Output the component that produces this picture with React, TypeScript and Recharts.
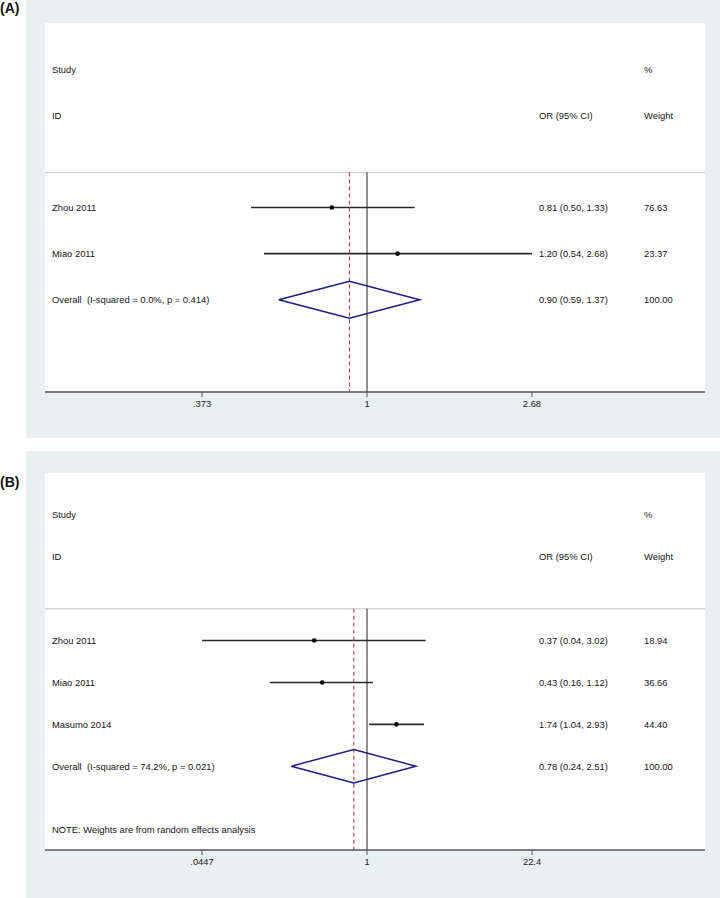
import React from 'react';
import { ScatterChart, Scatter, XAxis, YAxis, ReferenceLine, CartesianGrid } from 'recharts';

const FONT = '"Liberation Sans", Arial, Helvetica, sans-serif';
const NAVY = '#1c1c8a';

// (A) studies
const studiesA = ['Zhou 2011', 'Miao 2011'];
const orA = [0.81, 1.2];
const lowA = [0.5, 0.54];
const highA = [1.33, 2.68];
const weightA = ['76.63', '23.37'];
// overall: estimate, lower, upper
const overallA = [0.9, 0.59, 1.37];
const overallLabelA = 'Overall  (I-squared = 0.0%, p = 0.414)';
const ticksA = [0.373, 1, 2.68];
const tickLabelsA = ['.373', '1', '2.68'];

// (B) studies
const studiesB = ['Zhou 2011', 'Miao 2011', 'Masumo 2014'];
const orB = [0.37, 0.43, 1.74];
const lowB = [0.0447, 0.16, 1.04];
const highB = [3.02, 1.12, 2.93];
const weightB = ['18.94', '36.66', '44.40'];
const overallB = [0.78, 0.24, 2.51];
const overallLabelB = 'Overall  (I-squared = 74.2%, p = 0.021)';
const ticksB = [0.0447, 1, 22.4];
const tickLabelsB = ['.0447', '1', '22.4'];
const noteB = 'NOTE: Weights are from random effects analysis';

const SEP_ROW = -0.76;

type Row = { row: number; label?: string; ci?: string; weight?: string };

const fmt = (v: number) => v.toFixed(2);

const RowTick = (props: any) => {
  const { x, y, payload, rows } = props;
  const r: Row | undefined = rows.find((d: Row) => d.row === payload.value);
  if (!r) return <g />;
  const t = { y, dominantBaseline: 'central' as const, style: { whiteSpace: 'pre' as const } };
  return (
    <g fontFamily={FONT} fontSize={9.4} fill="#151515">
      {r.label && <text x={x + 7} {...t}>{r.label}</text>}
      {r.ci && <text x={x + 494} {...t}>{r.ci}</text>}
      {r.weight && <text x={x + 599} {...t}>{r.weight}</text>}
    </g>
  );
};

const Dot = (props: any) => <circle cx={props.cx} cy={props.cy} r={2.3} fill="#000" />;

type PanelProps = {
  studies: string[];
  or: number[];
  low: number[];
  high: number[];
  weight: string[];
  overall: number[];
  overallLabel: string;
  ticks: number[];
  tickLabels: string[];
  domain: [number, number];
  rowDomain: [number, number];
  note?: string;
  height: number;
  top: number;
  bottom: number;
};

const ForestPanel = (p: PanelProps) => {
  const n = p.studies.length;
  const rows: Row[] = [
    { row: -3, label: 'Study', weight: '%' },
    { row: -2, label: 'ID', ci: 'OR (95% CI)', weight: 'Weight' },
    ...p.studies.map((s, i) => ({
      row: i,
      label: s,
      ci: `${fmt(p.or[i])} (${fmt(p.low[i])}, ${fmt(p.high[i])})`,
      weight: p.weight[i],
    })),
    {
      row: n,
      label: p.overallLabel,
      ci: `${fmt(p.overall[0])} (${fmt(p.overall[1])}, ${fmt(p.overall[2])})`,
      weight: '100.00',
    },
  ];
  if (p.note) rows.push({ row: n + 1.5, label: p.note });

  const points = p.studies.map((_, i) => ({ or: p.or[i], row: i }));
  const diamond = [
    { or: p.overall[1], row: n },
    { or: p.overall[0], row: n - 0.4 },
    { or: p.overall[2], row: n },
    { or: p.overall[0], row: n + 0.4 },
    { or: p.overall[1], row: n },
  ];
  const axisRow = p.rowDomain[1];

  return (
    <ScatterChart width={720} height={p.height} margin={{ top: p.top, right: 15, bottom: p.bottom, left: 44 }}>
      <CartesianGrid horizontal={false} vertical={false} fill="#ffffff" stroke="none" />
      <XAxis
        type="number"
        dataKey="or"
        scale="log"
        domain={p.domain}
        allowDataOverflow
        ticks={p.ticks}
        interval={0}
        tickFormatter={(v: number) => p.tickLabels[p.ticks.indexOf(v)] ?? String(v)}
        axisLine={{ stroke: '#555', strokeWidth: 1.5 }}
        tickLine={{ stroke: '#555' }}
        tickSize={5}
        tickMargin={3}
        tick={{ fontSize: 9.4, fill: '#222', fontFamily: FONT }}
        height={30}
      />
      <YAxis
        type="number"
        dataKey="row"
        domain={p.rowDomain}
        reversed
        allowDataOverflow
        width={1}
        ticks={rows.map((r) => r.row)}
        interval={0}
        axisLine={false}
        tickLine={false}
        tickSize={0}
        tickMargin={0}
        tick={(tp: any) => <RowTick {...tp} rows={rows} />}
      />
      <ReferenceLine y={SEP_ROW} stroke="#d4d4d4" strokeWidth={1.5} />
      {p.studies.map((s, i) => (
        <ReferenceLine
          key={s}
          segment={[{ x: p.low[i], y: i }, { x: p.high[i], y: i }]}
          stroke="#2a2a2a"
          strokeWidth={1.6}
        />
      ))}
      <ReferenceLine segment={[{ x: 1, y: SEP_ROW }, { x: 1, y: axisRow }]} stroke="#222" strokeWidth={1} />
      <ReferenceLine
        segment={[{ x: p.overall[0], y: SEP_ROW }, { x: p.overall[0], y: axisRow }]}
        stroke="#c0282d"
        strokeWidth={1}
        strokeDasharray="4 3"
      />
      <Scatter data={points} shape={Dot} isAnimationActive={false} />
      <Scatter
        data={diamond}
        line={{ stroke: NAVY, strokeWidth: 1.5 }}
        lineType="joint"
        shape={() => <g />}
        isAnimationActive={false}
      />
    </ScatterChart>
  );
};

const panelLabel: React.CSSProperties = {
  position: 'absolute',
  left: 0,
  fontFamily: FONT,
  fontWeight: 'bold',
  fontSize: 14,
  lineHeight: '16px',
  color: '#111',
};

export default function App() {
  return (
    <div style={{ position: 'absolute', left: 0, top: 0, width: 720, height: 898, background: '#fff', overflow: 'hidden' }}>
      <div style={{ position: 'absolute', left: 26, top: 0, width: 694, height: 438, background: '#e8f0f2' }} />
      <div style={{ position: 'absolute', left: 26, top: 451, width: 694, height: 447, background: '#e8f0f2' }} />
      <div style={{ ...panelLabel, top: 0 }}>(A)</div>
      <div style={{ ...panelLabel, top: 474 }}>(B)</div>
      <div style={{ position: 'absolute', left: 0, top: 0 }}>
        <ForestPanel
          studies={studiesA}
          or={orA}
          low={lowA}
          high={highA}
          weight={weightA}
          overall={overallA}
          overallLabel={overallLabelA}
          ticks={ticksA}
          tickLabels={tickLabelsA}
          domain={[0.1459, 7.54]}
          rowDomain={[-4, 4]}
          height={438}
          top={23}
          bottom={16}
        />
      </div>
      <div style={{ position: 'absolute', left: 0, top: 451 }}>
        <ForestPanel
          studies={studiesB}
          or={orB}
          low={lowB}
          high={highB}
          weight={weightB}
          overall={overallB}
          overallLabel={overallLabelB}
          ticks={ticksB}
          tickLabels={tickLabelsB}
          domain={[0.00232, 582.4]}
          rowDomain={[-4, 5]}
          note={noteB}
          height={447}
          top={22}
          bottom={18}
        />
      </div>
    </div>
  );
}
